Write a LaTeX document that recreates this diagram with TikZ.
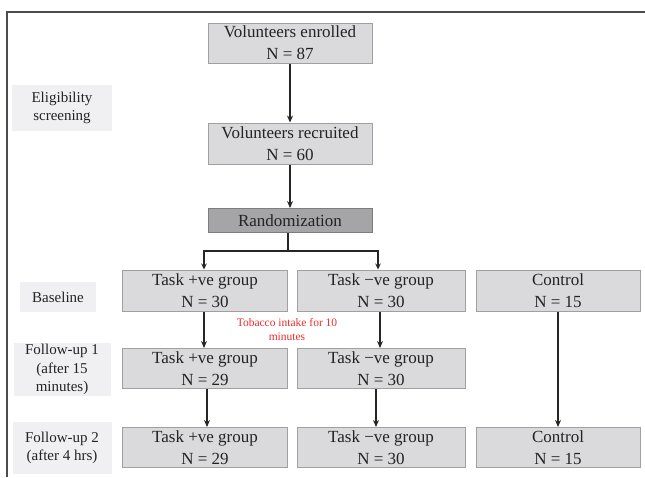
\documentclass[tikz,border=0pt]{standalone}
\usepackage{fontspec}
\setmainfont{Liberation Serif}
\newfontfamily\timesfont{Liberation Serif}
\usetikzlibrary{arrows.meta}
\definecolor{boxfill}{RGB}{218,218,220}
\definecolor{boxline}{RGB}{160,160,160}
\definecolor{randfill}{RGB}{165,165,168}
\definecolor{randline}{RGB}{125,125,125}
\definecolor{sidefill}{RGB}{240,240,242}
\definecolor{txt}{RGB}{35,35,35}
\definecolor{redtxt}{RGB}{235,45,45}
\begin{document}
\begin{tikzpicture}[x=1pt,y=-1pt,
  flowbox/.style={draw=boxline,fill=boxfill,line width=1pt,minimum width=164pt,minimum height=40pt,
    inner sep=0pt,align=center,font=\timesfont\fontsize{17}{22}\selectfont,text=txt},
  grpbox/.style={flowbox,minimum width=165pt,minimum height=41pt},
  randbox/.style={flowbox,fill=randfill,draw=randline,minimum height=24pt},
  sidebox/.style={fill=sidefill,inner sep=0pt,align=center,font=\timesfont\fontsize{15}{18.5}\selectfont,text=txt},
  arr/.style={-{Stealth[length=7pt,width=6pt]},line width=1.7pt,draw=black!85},
  thinarr/.style={-{Stealth[length=6pt,width=5.5pt]},line width=1.3pt,draw=black!85},
  ln/.style={line width=1.5pt,draw=black!85}]
\useasboundingbox (0,0) rectangle (645,477);
\draw[line width=1.5pt,draw=black!70] (7,477) -- (7,12) -- (645,12);

% main boxes
\node[flowbox] (enr) at (290,43) {Volunteers enrolled\\N = 87};
\node[flowbox,minimum height=41pt] (rec) at (290,143.5) {Volunteers recruited\\N = 60};
\node[randbox] (rand) at (290,220.5) {Randomization};

\node[grpbox] (b1) at (205,290.5) {Task +ve group\\N = 30};
\node[grpbox,minimum width=168pt] (b2) at (381,290.5) {Task −ve group\\N = 30};
\node[flowbox,minimum height=41pt] (b3) at (558,290.5) {Control\\N = 15};

\node[grpbox,minimum height=40pt] (f1a) at (205,368.5) {Task +ve group\\N = 29};
\node[grpbox,minimum width=168pt,minimum height=40pt] (f1b) at (381,368.5) {Task −ve group\\N = 30};

\node[grpbox,minimum height=40pt] (f2a) at (205,447.5) {Task +ve group\\N = 29};
\node[grpbox,minimum width=168pt,minimum height=40pt] (f2b) at (381,447.5) {Task −ve group\\N = 30};
\node[flowbox,minimum height=40pt] (f2c) at (558,447.5) {Control\\N = 15};

% side labels
\node[sidebox,minimum width=100pt,minimum height=46pt] (elig) at (62,108) {Eligibility\\screening};
\node[sidebox,minimum width=76pt,minimum height=30pt] (base) at (58,297) {Baseline};
\node[sidebox,minimum width=97pt,minimum height=53pt] (fu1) at (62,369.5) {Follow-up 1\\(after 15\\minutes)};
\node[sidebox,minimum width=99pt,minimum height=52pt] (fu2) at (62,448) {Follow-up 2\\(after 4 hrs)};

% tobacco note
\node[align=center,text=redtxt,font=\timesfont\fontsize{11.5}{14}\selectfont,inner sep=0pt] (tob) at (287,330) {Tobacco intake for 10\\minutes};

% connectors
\draw[arr] (enr) -- (rec);
\draw[arr] (rec) -- (rand);
\coordinate (split) at (288,251);
\draw[ln] ([xshift=-2pt]rand.south) -- (split);
\draw[thinarr] (split) -| ([xshift=-1pt]b1.north);
\draw[thinarr] (split) -| ([xshift=-3pt]b2.north);
\draw[arr] ([xshift=-1pt]b1.south) -- ([xshift=-1pt]f1a.north);
\draw[arr] ([xshift=-1pt]b2.south) -- ([xshift=-1pt]f1b.north);
\draw[arr] ([xshift=2pt]f1a.south) -- ([xshift=2pt]f2a.north);
\draw[arr] ([xshift=-5pt]f1b.south) -- ([xshift=-5pt]f2b.north);
\draw[arr] (b3) -- (f2c);
\end{tikzpicture}
\end{document}
